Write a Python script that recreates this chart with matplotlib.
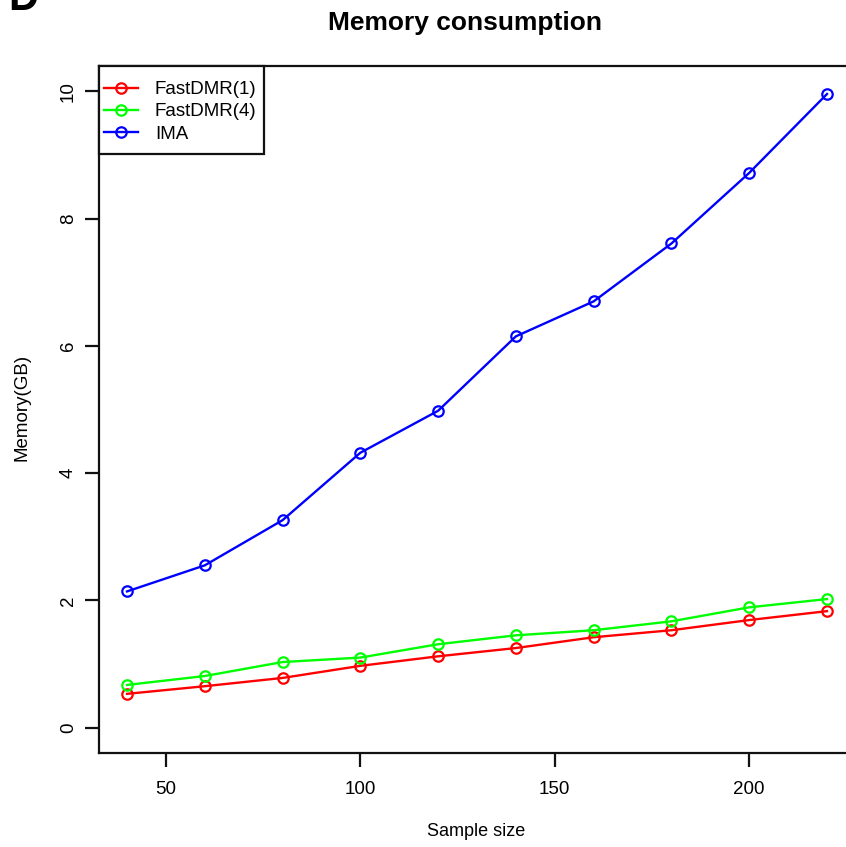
import matplotlib
matplotlib.use("Agg")
import matplotlib.pyplot as plt
from matplotlib import font_manager as fm
from matplotlib.patches import Rectangle

plt.rcParams['font.family'] = ['Liberation Sans', 'DejaVu Sans']

def find_font(bold):
    for f in fm.fontManager.ttflist:
        if f.name == 'Liberation Sans' and 'Narrow' not in f.fname:
            isbold = (f.weight in (700, 'bold')) or 'Bold' in f.fname
            if isbold == bold and f.style == 'normal':
                return fm.FontProperties(fname=f.fname)
    return fm.FontProperties(family='Liberation Sans', weight='bold' if bold else 'normal')

sample_size = [40, 60, 80, 100, 120, 140, 160, 180, 200, 220]
fastdmr1 = [0.53, 0.65, 0.78, 0.97, 1.12, 1.25, 1.42, 1.53, 1.69, 1.83]
fastdmr4 = [0.67, 0.81, 1.03, 1.10, 1.31, 1.45, 1.53, 1.67, 1.89, 2.02]
ima = [2.14, 2.55, 3.26, 4.32, 4.98, 6.15, 6.70, 7.61, 8.72, 9.96]
labels = ["FastDMR(1)", "FastDMR(4)", "IMA"]
colors = ["#ff0000", "#00ff00", "#0000ff"]

W, H = 846, 847
fig = plt.figure(figsize=(W/100, H/100), dpi=100)
left, right, top, bottom = 99, 855, 66, 753
ax = fig.add_axes([left/W, 1-bottom/H, (right-left)/W, (bottom-top)/H])

for ys, lab, c in zip([fastdmr1, fastdmr4, ima], labels, colors):
    ax.plot(sample_size, ys, color=c, lw=1.7, marker='o', ms=7.5,
            mfc='none', mec=c, mew=1.6, label=lab)

ax.set_xlim(32.8, 227.2)
ax.set_ylim(-0.4, 10.4)
ax.set_xticks([50, 100, 150, 200])
ax.set_yticks([0, 2, 4, 6, 8, 10])
for s in ax.spines.values():
    s.set_linewidth(1.6)
    s.set_color('#111111')
ax.tick_params(axis='both', length=10, width=1.6, labelsize=13.5, color='#111111')
ax.tick_params(axis='x', pad=10)
ax.tick_params(axis='y', pad=6)
for t in ax.get_yticklabels():
    t.set_rotation(90)
    t.set_va('center')

leg = ax.legend(loc='upper left', bbox_to_anchor=(104/W, 1-81/H),
                bbox_transform=fig.transFigure, fontsize=13.5, frameon=False,
                borderaxespad=0, borderpad=0, handlelength=1.81,
                labelspacing=0.27, handletextpad=0.9)
leg.set_zorder(6)
box = Rectangle((left/W, 1-154/H), (264-left)/W, (154-top)/H,
                transform=fig.transFigure, fill=True, facecolor='white',
                edgecolor='#111111', lw=1.6, zorder=5, clip_on=False)
ax.add_patch(box)

fp_b = find_font(True)
fp_b.set_size(19)
fig.text(465/W, 1-23/H, "Memory consumption", ha='center', va='center',
         fontproperties=fp_b)
fig.text(476/W, 1-831/H, "Sample size", ha='center', va='center', fontsize=13)
fig.text(22/W, 1-407/H, "Memory(GB)", ha='center', va='center', fontsize=13.5, rotation=90)
fp_d = find_font(True)
fp_d.set_size(30)
fig.text(8/W, 1+1/H, "D", ha='left', va='center', fontproperties=fp_d)

fig.savefig("out.png", dpi=100)
